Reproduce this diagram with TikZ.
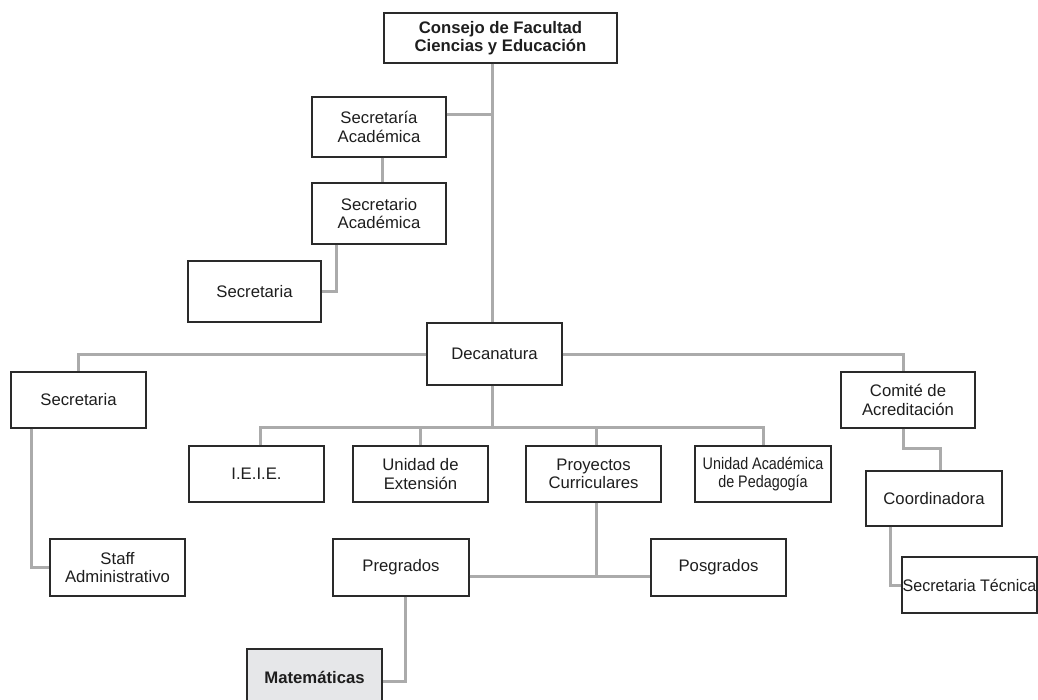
\documentclass[tikz,border=0pt]{standalone}
\usepackage{fontspec}
\setmainfont{Liberation Sans}
\definecolor{linkgray}{HTML}{ABABAB}
\definecolor{boxline}{HTML}{2A2A2A}
\definecolor{txt}{HTML}{1E1E1E}
\definecolor{matfill}{HTML}{E6E7E9}
\begin{document}
\begin{tikzpicture}[x=1pt,y=-1pt,
  box/.style={draw=boxline,line width=1.3pt,fill=white,text=txt,align=center,
    inner sep=0pt,minimum width=135pt,minimum height=56pt,
    font=\fontsize{16.7pt}{18.5pt}\selectfont},
  link/.style={draw=linkgray,line width=3pt}]
\useasboundingbox (0,0) rectangle (1038,700);
\clip (0,0) rectangle (1038,700);
\fill[white] (0,0) rectangle (1038,700);
% coordinates for connector routes
\coordinate (trunk) at (492,0);
\coordinate (j1) at (492,115);
\coordinate (j2) at (336,0);
\coordinate (bus) at (0,427);
\coordinate (j3) at (0,576.5);
\coordinate (j4) at (31,0);
\coordinate (j5) at (940,448);
\coordinate (j6) at (890,0);
% connectors first (drawn below boxes)
\begin{scope}[on background layer/.style={}]
\end{scope}
% nodes
\node[box,minimum width=233pt,minimum height=50pt,font=\bfseries\fontsize{16.7pt}{17.8pt}\selectfont] (cons) at (500.5,38) {Consejo de Facultad\\Ciencias y Educación};
\node[box,minimum width=134pt,minimum height=60pt] (secac) at (379,127) {Secretaría\\Académica};
\node[box,minimum width=134pt,minimum height=61pt] (secro) at (379,213.5) {Secretario\\Académica};
\node[box,minimum width=133pt,minimum height=61pt] (sec1) at (254.5,291.5) {Secretaria};
\node[box,minimum height=62pt] (dec) at (494.5,354) {Decanatura};
\node[box] (sec2) at (78.5,400) {Secretaria};
\node[box,minimum width=134pt] (com) at (908,400) {Comité de\\Acreditación};
\node[box] (ieie) at (256.5,474) {I.E.I.E.};
\node[box] (ext) at (420.5,474) {Unidad de\\Extensión};
\node[box] (proy) at (593.5,474) {Proyectos\\Curriculares};
\node[box,minimum width=136pt] (ua) at (763,474) {\scalebox{0.86}[1]{Unidad Académica}\\\scalebox{0.86}[1]{de Pedagogía}};
\node[box,minimum width=136pt,minimum height=55pt] (coord) at (934,498.5) {Coordinadora};
\node[box,minimum height=57pt] (staff) at (117.5,567.5) {Staff\\Administrativo};
\node[box,minimum width=136pt,minimum height=57pt] (pre) at (401,567.5) {Pregrados};
\node[box,minimum height=57pt] (pos) at (718.5,567.5) {Posgrados};
\node[box] (sect) at (969.5,585) {\scalebox{0.96}[1]{Secretaria Técnica}};
\node[box,fill=matfill,minimum height=57pt,font=\bfseries\fontsize{16.7pt}{18.5pt}\selectfont] (mat) at (314.5,677.5) {Matemáticas};
% connectors
\draw[link] (cons.south -| trunk) -- (dec.north -| trunk);
\draw[link] (secac.east |- j1) -- (j1);
\draw[link] ([xshift=3pt]secac.south) -- ([xshift=3pt]secro.north);
\draw[link] (secro.south -| j2) |- (sec1.east);
\draw[link] (dec.west) -| (sec2.north);
\draw[link] (dec.east) -| ([xshift=-5pt]com.north);
\draw[link] (dec.south -| trunk) -- (bus -| trunk);
\draw[link] ([xshift=3.5pt]ieie.north) |- ([xshift=0pt]ua.north |- bus) -- (ua.north);
\draw[link] (ext.north) -- (ext.north |- bus);
\draw[link] ([xshift=2.5pt]proy.north) -- ([xshift=2.5pt]proy.north |- bus);
\draw[link] ([xshift=2.5pt]proy.south) -- ([xshift=2.5pt]proy.south |- j3);
\draw[link] (pre.east |- j3) -- (pos.west |- j3);
\draw[link] ([xshift=4pt]pre.south) |- (mat.east |- 0,681);
\draw[link] (sec2.south -| j4) |- (staff.west);
\draw[link] ([xshift=-5pt]com.south) |- (j5) -- (j5 |- coord.north);
\draw[link] (coord.south -| j6) |- (sect.west);
\end{tikzpicture}
\end{document}
